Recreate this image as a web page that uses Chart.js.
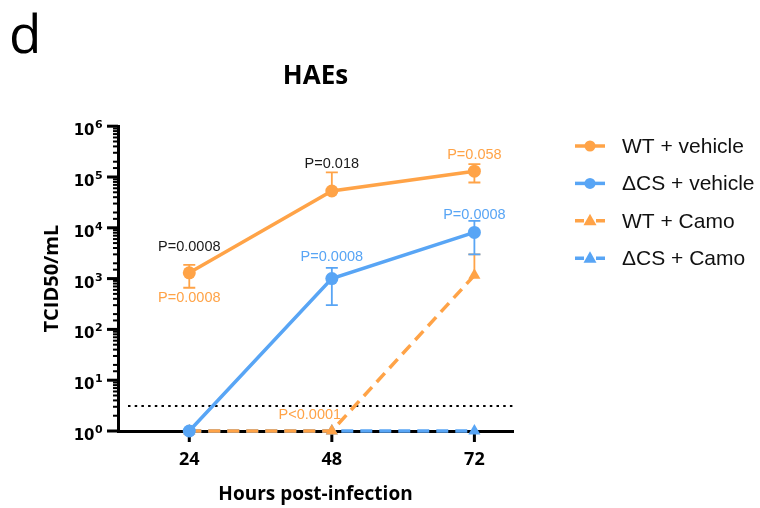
<!DOCTYPE html>
<html><head><meta charset="utf-8">
<script src="https://cdn.jsdelivr.net/npm/chart.js@4.4.1/dist/chart.umd.min.js"></script>
<style>html,body{margin:0;padding:0;background:#fff}#wrap{width:760px;height:508px}</style>
</head><body><div id="wrap"><canvas id="c" width="760" height="508"></canvas></div>
<script>
// ---- data ----
const hours = [24, 48, 72];
const xTickLabels = ['24', '48', '72'];
const yTickBase = '10';
const yTickExponents = ['0', '1', '2', '3', '4', '5', '6'];
const seriesNames = ['WT + vehicle', '\u0394CS + vehicle', 'WT + Camo', '\u0394CS + Camo'];
const wtVehicle = [1300, 53000, 130000];
const wtVehicleLow = [660, null, 78000];
const wtVehicleHigh = [1870, 123000, 179000];
const dcsVehicle = [1, 1000, 8100];
const dcsVehicleLow = [null, 300, 3000];
const dcsVehicleHigh = [null, 1630, 13700];
const wtCamo = [1, 1, 1160];
const wtCamoLow = [null, null, null];
const wtCamoHigh = [null, null, 3000];
const dcsCamo = [1, 1, 1];
const dcsCamoLow = [null, null, null];
const dcsCamoHigh = [null, null, null];
const detectionLimit = 3.1;
const pTexts = ['P=0.0008', 'P=0.0008', 'P=0.018', 'P=0.058', 'P=0.0008', 'P=0.0008', 'P<0.0001'];
const pX = [24, 24, 48, 72, 48, 72, 44.3];
const pY = [4170, 414, 179000, 269000, 2650, 17800, 2.06];
const pColorKey = ['black', 'orange', 'black', 'orange', 'blue', 'blue', 'orange'];

// ---- styles ----
const ORANGE = '#FFA347';
const BLUE = '#58A5F5';
const COLORS = {orange: ORANGE, blue: BLUE, black: '#1a1a1a'};
const BOLD = '"Open Sans", "DejaVu Sans", sans-serif';
const SANS = '"Liberation Sans", Arial, sans-serif';

function pts(vals) { return hours.map((h, i) => ({x: h, y: vals[i]})); }

const errorBars = [
  {low: wtVehicleLow, high: wtVehicleHigh, mid: wtVehicle, color: ORANGE},
  {low: dcsVehicleLow, high: dcsVehicleHigh, mid: dcsVehicle, color: BLUE},
  {low: wtCamoLow, high: wtCamoHigh, mid: wtCamo, color: ORANGE},
  {low: dcsCamoLow, high: dcsCamoHigh, mid: dcsCamo, color: BLUE}
];

const isPow10 = v => Math.abs(Math.log10(v) - Math.round(Math.log10(v))) < 1e-9;

const drawPlugin = {
  id: 'extras',
  beforeDatasetsDraw(chart) {
    const ctx = chart.ctx, x = chart.scales.x, y = chart.scales.y, ca = chart.chartArea;
    ctx.save();
    // limit of detection dotted line
    const ly = y.getPixelForValue(detectionLimit);
    ctx.strokeStyle = '#000'; ctx.lineWidth = 2; ctx.setLineDash([2.5, 4.2]);
    ctx.beginPath(); ctx.moveTo(ca.left + 10, ly); ctx.lineTo(ca.right, ly); ctx.stroke();
    ctx.setLineDash([]);
    // y ticks and labels with superscript exponents
    y.ticks.forEach(t => {
      const py = y.getPixelForValue(t.value);
      const major = isPow10(t.value);
      ctx.lineWidth = major ? 3 : 2;
      ctx.beginPath(); ctx.moveTo(ca.left - (major ? 11 : 5), py); ctx.lineTo(ca.left, py); ctx.stroke();
      if (major) {
        const e = Math.round(Math.log10(t.value));
        ctx.fillStyle = '#000'; ctx.textBaseline = 'alphabetic';
        ctx.font = 'bold 15px "DejaVu Sans", sans-serif'; ctx.textAlign = 'right';
        ctx.fillText(yTickBase, ca.left - 23.5, py + 9);
        ctx.font = 'bold 11px "DejaVu Sans", sans-serif'; ctx.textAlign = 'left';
        ctx.fillText(yTickExponents[e], ca.left - 23, py + 2);
      }
    });
    // x ticks
    x.ticks.forEach(t => {
      const px = x.getPixelForValue(t.value);
      ctx.lineWidth = 3;
      ctx.beginPath(); ctx.moveTo(px, ca.bottom); ctx.lineTo(px, ca.bottom + 11); ctx.stroke();
    });
    ctx.restore();
  },
  afterDatasetsDraw(chart) {
    const ctx = chart.ctx, x = chart.scales.x, y = chart.scales.y;
    ctx.save();
    for (let d = errorBars.length - 1; d >= 0; d--) {
      const eb = errorBars[d];
      ctx.strokeStyle = eb.color; ctx.lineWidth = 1.8;
      hours.forEach((h, i) => {
        const px = x.getPixelForValue(h), pm = y.getPixelForValue(eb.mid[i]);
        [eb.low[i], eb.high[i]].forEach(v => {
          if (v == null) return;
          const pv = y.getPixelForValue(v);
          ctx.beginPath(); ctx.moveTo(px, pm); ctx.lineTo(px, pv);
          ctx.moveTo(px - 6, pv); ctx.lineTo(px + 6, pv); ctx.stroke();
        });
      });
    }
    // p-value annotations
    ctx.font = '14.5px ' + SANS; ctx.textAlign = 'center'; ctx.textBaseline = 'middle';
    pTexts.forEach((t, i) => {
      ctx.fillStyle = COLORS[pColorKey[i]];
      ctx.fillText(t, x.getPixelForValue(pX[i]), y.getPixelForValue(pY[i]));
    });
    ctx.restore();
  },
  afterDraw(chart) {
    const ctx = chart.ctx;
    ctx.save();
    // panel letter
    ctx.fillStyle = '#000'; ctx.font = '400 53px "Open Sans", sans-serif';
    ctx.textAlign = 'left'; ctx.textBaseline = 'alphabetic';
    ctx.fillText('d', 9, 53);
    // legend
    chart.data.datasets.forEach((ds, i) => {
      const ly = 146 + i * 37.4;
      ctx.strokeStyle = ds.borderColor; ctx.fillStyle = ds.borderColor; ctx.lineWidth = 3.5;
      ctx.beginPath();
      if (ds.borderDash && ds.borderDash.length) {
        ctx.moveTo(575, ly); ctx.lineTo(584, ly); ctx.moveTo(596, ly); ctx.lineTo(605, ly);
      } else { ctx.moveTo(575, ly); ctx.lineTo(605, ly); }
      ctx.stroke();
      ctx.beginPath();
      if (ds.pointStyle === 'triangle') {
        ctx.moveTo(590, ly - 7); ctx.lineTo(596.5, ly + 4.5); ctx.lineTo(583.5, ly + 4.5); ctx.closePath();
      } else { ctx.arc(590, ly, 5.5, 0, Math.PI * 2); }
      ctx.fill();
      ctx.fillStyle = '#111'; ctx.font = '21px ' + SANS; ctx.textAlign = 'left'; ctx.textBaseline = 'middle';
      ctx.fillText(seriesNames[i], 622, ly + 1);
    });
    ctx.restore();
  }
};

function lineDs(i, vals, color, style, dashed) {
  return {
    label: seriesNames[i], data: pts(vals), borderColor: color, backgroundColor: color,
    borderWidth: 3.5, borderDash: dashed ? [12, 7] : [], pointStyle: style,
    pointRadius: style === 'triangle' ? 7 : 6.5, pointBorderWidth: 0, pointBackgroundColor: color,
    tension: 0, clip: false, fill: false
  };
}

new Chart(document.getElementById('c'), {
  type: 'line',
  data: {
    datasets: [
      lineDs(0, wtVehicle, ORANGE, 'circle', false),
      lineDs(1, dcsVehicle, BLUE, 'circle', false),
      lineDs(2, wtCamo, ORANGE, 'triangle', true),
      lineDs(3, dcsCamo, BLUE, 'triangle', true)
    ]
  },
  options: {
    responsive: false, animation: false, devicePixelRatio: 1,
    layout: {padding: {left: 0, right: 247, top: 0, bottom: 0}},
    plugins: {
      legend: {display: false}, tooltip: {enabled: false},
      title: {display: true, text: 'HAEs', fullSize: false, color: '#000',
        font: {family: BOLD, size: 26, weight: 'bold'}, padding: {top: 61, bottom: 34}}
    },
    scales: {
      x: {
        type: 'linear', min: 12, max: 78.5,
        afterBuildTicks: s => { s.ticks = hours.map(h => ({value: h})); },
        afterFit: s => { s.height = 77; },
        grid: {display: false, drawTicks: false},
        border: {display: true, width: 3, color: '#000'},
        ticks: {padding: 18, color: '#000', font: {family: BOLD, size: 18, weight: 'bold'},
          autoSkip: false, maxRotation: 0,
          callback: (v) => { const k = hours.indexOf(v); return k >= 0 ? xTickLabels[k] : ''; }},
        title: {display: true, text: 'Hours post-infection', color: '#000',
          font: {family: BOLD, size: 19, weight: 'bold'}, padding: {top: 0, bottom: 2}}
      },
      y: {
        type: 'logarithmic', min: 1, max: 1e6,
        afterFit: s => { s.width = 118; },
        grid: {display: false, drawTicks: false},
        border: {display: true, width: 3, color: '#000'},
        ticks: {padding: 6, autoSkip: false, callback: () => ''},
        title: {display: true, text: 'TCID50/mL', color: '#000',
          font: {family: BOLD, size: 20, weight: 'bold'}, padding: {top: 40, bottom: 0}}
      }
    }
  },
  plugins: [drawPlugin]
});
</script></body></html>
